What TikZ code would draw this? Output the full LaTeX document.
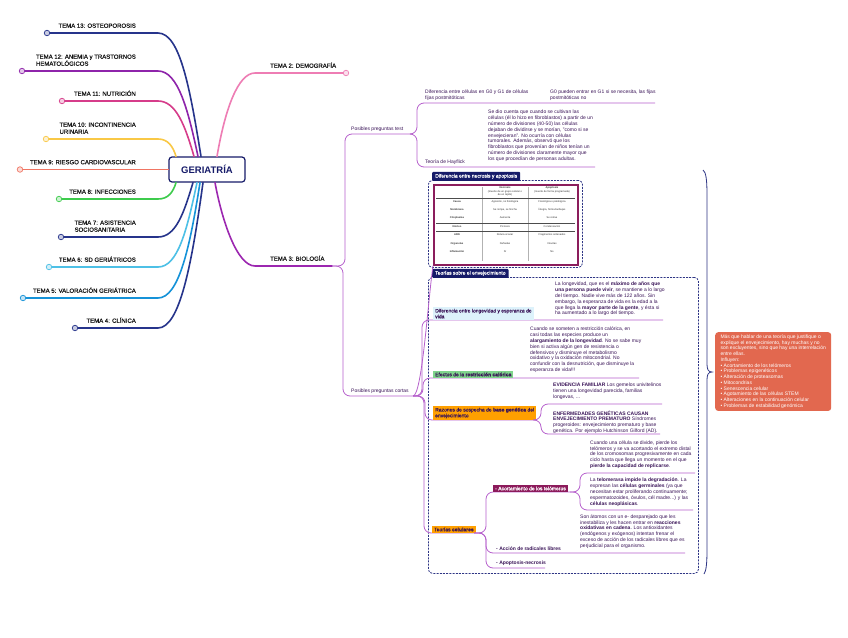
\documentclass[tikz,border=0pt]{standalone}
\usepackage{fontspec}
\setmainfont{Liberation Sans}
\newfontfamily\mediumfont[FakeBold=0.7]{Liberation Sans}
\definecolor{navyT}{HTML}{26348B}
\definecolor{violetT}{HTML}{8E24AA}
\definecolor{magentaT}{HTML}{D63C8A}
\definecolor{yellowT}{HTML}{F9C846}
\definecolor{salmonT}{HTML}{F07563}
\definecolor{greenT}{HTML}{3DCB4C}
\definecolor{skyT}{HTML}{4DC0E6}
\definecolor{blueT}{HTML}{1592D8}
\definecolor{pinkT}{HTML}{EE7DB4}
\definecolor{bioT}{HTML}{9C27B0}
\definecolor{twigc}{HTML}{B660CC}
\definecolor{ink}{HTML}{3A1458}
\definecolor{tabc}{HTML}{161B69}
\definecolor{framec}{HTML}{2E3585}
\definecolor{tablec}{HTML}{8B1D5C}
\definecolor{skybox}{HTML}{DDF2FB}
\definecolor{mintbox}{HTML}{7FD48C}
\definecolor{orangebox}{HTML}{FFA000}
\definecolor{plumbox}{HTML}{8C1A5B}
\definecolor{redbox}{HTML}{E2684F}
\tikzset{
 geri/.style={draw=tabc, line width=1.2pt, fill=white, rounded corners=3pt, minimum width=76pt, minimum height=25pt, font=\bfseries\fontsize{9.5}{11}\selectfont, text=tabc},
 tema/.style={font=\mediumfont\fontsize{6}{7}\selectfont, text=black!90, inner sep=0pt, align=left},
 ring/.style={circle, draw=#1, fill=#1!25, line width=.7pt, minimum size=5.5pt, inner sep=0pt},
 limb/.style={draw=#1, line width=1.6pt, line cap=round},
 twig/.style={draw=twigc, line width=.8pt, rounded corners=7pt},
 topic/.style={font=\fontsize{5}{5.8}\selectfont, text=ink, inner sep=0pt, align=left, anchor=south west},
 note/.style={font=\fontsize{5}{5.8}\selectfont, text=ink, inner sep=0pt, align=left, anchor=north west},
 chip/.style={fill=#1, font=\mediumfont\fontsize{5}{5.8}\selectfont, text=ink, inner xsep=2pt, inner ysep=1.5pt, align=left, anchor=south west},
 grouptab/.style={fill=tabc, text=white, font=\mediumfont\fontsize{5}{5.8}\selectfont, inner xsep=3pt, inner ysep=2.2pt, text height=3.6pt, text depth=1pt, anchor=south west, rounded corners=1pt},
 groupframe/.style={draw=framec, dash pattern=on 2pt off 1.2pt, line width=.8pt, rounded corners=4pt, anchor=north west, inner sep=0pt},
 cell/.style={font=\fontsize{2.6}{3.1}\selectfont, text=black!80, inner sep=0pt, align=center},
 rulec/.style={draw=black!70, line width=.4pt},
 summary/.style={fill=redbox, text=white, rounded corners=3pt, anchor=north west, inner xsep=4pt, inner ysep=2.5pt, font=\fontsize{5}{5.75}\selectfont, align=left}
}
\newcommand{\tema}[7]{%
 \node[ring=#4] (#1) at (#3,#2) {};%
 \coordinate (#1k) at (158,#2);%
 \node[tema,anchor=south east] (#1t) at (136,#2-5) {#7};%
 \draw[limb=#4] (#5) .. controls #6 .. (#1k) -- (#1);%
}
\newcommand{\tabrow}[5]{%
 \node[cell] (#1l) at (457,#2) {\textbf{#3}};%
 \node[cell] (#1n) at (505,#2) {#4};%
 \node[cell] (#1a) at (552,#2) {#5};%
}
\begin{document}
\begin{tikzpicture}[x=1pt,y=-1pt]
 \useasboundingbox (0,0) rectangle (848,637);
 \fill[white] (0,0) rectangle (848,637);

 \node[geri] (geri) at (207,169.5) {GERIATRÍA};

 % left side
 \tema{t13}{33}{47}{navyT}{[xshift=-6pt]geri.north}{+(-11,-68) and +(22,0)}{TEMA 13: OSTEOPOROSIS}
 \tema{t12}{71}{22}{violetT}{[xshift=-9pt]geri.north}{+(-10,-47) and +(20,0)}{TEMA 12: ANEMIA y TRASTORNOS\\HEMATOLÓGICOS}
 \tema{t11}{101}{62}{magentaT}{[xshift=-13pt]geri.north}{+(-9,-31) and +(18,0)}{TEMA 11: NUTRICIÓN}
 \tema{t10}{139}{46}{yellowT}{[xshift=-31pt]geri.north}{+(-3,-10) and +(10,0)}{TEMA 10: INCONTINENCIA\\URINARIA}
 \tema{t9}{169.5}{20}{salmonT}{geri.west}{+(-4,0) and +(4,0)}{TEMA 9: RIESGO CARDIOVASCULAR}
 \tema{t8}{199}{59}{greenT}{[xshift=-31pt]geri.south}{+(-3,10) and +(10,0)}{TEMA 8: INFECCIONES}
 \tema{t7}{237}{61}{navyT}{[xshift=-14pt]geri.south}{+(-9,30) and +(18,0)}{TEMA 7: ASISTENCIA\\SOCIOSANITARIA}
 \tema{t6}{267}{49}{skyT}{[xshift=-10pt]geri.south}{+(-10,47) and +(20,0)}{TEMA 6: SD GERIÁTRICOS}
 \tema{t5}{298}{23}{blueT}{[xshift=-7pt]geri.south}{+(-10,64) and +(21,0)}{TEMA 5: VALORACIÓN GERIÁTRICA}
 \tema{t4}{328}{75}{navyT}{[xshift=-4pt]geri.south}{+(-11,80) and +(22,0)}{TEMA 4: CLÍNICA}

 % right side
 \node[ring=pinkT] (t2) at (346,73) {};
 \coordinate (t2k) at (255,73);
 \node[tema,anchor=south west] (t2t) at (270,68) {TEMA 2: DEMOGRAFÍA};
 \draw[limb=pinkT] ([xshift=10pt]geri.north) .. controls +(8,-47) and +(-17,0) .. (t2k) -- (t2);

 \coordinate (t3k) at (255,266);
 \coordinate (bio) at (332,266);
 \node[tema,anchor=south west] (t3t) at (270,261) {TEMA 3: BIOLOGÍA};
 \draw[limb=bioT] ([xshift=8pt]geri.south) .. controls +(7,38) and +(-18,0) .. (t3k) -- (bio);

 % preguntas test
 \coordinate (ptA) at (345,134);
 \coordinate (ptB) at (410,134);
 \node[topic] (pt) at (351,132) {Posibles preguntas test};
 \draw[twig] (bio) -| (ptA) -- (ptB);

 \coordinate (g0A) at (417,103);
 \coordinate (g0B) at (655,103);
 \draw[twig] (ptB) -| (g0A) -- (g0B);
 \node[topic] (g0) at (425,101) {Diferencia entre células en G0 y G1 de células\\fijas postmitóticas};
 \node[topic] (g0n) at (550,101) {G0 pueden entrar en G1 si se necesita, las fijas\\postmitóticas no};

 \coordinate (hfA) at (417,167);
 \coordinate (hfB) at (595,167);
 \draw[twig] (ptB) -| (hfA) -- (hfB);
 \node[topic] (hf) at (425,165) {Teoría de Hayflick};
 \node[note] (hfn) at (488,110) {Se dio cuenta que cuando se cultivan las\\células (él lo hizo en fibroblastos) a partir de un\\número de divisiones (40-50) las células\\dejaban de dividirse y se morían, "como si se\\envejecieran". No ocurría con células\\tumorales. Además, observó que los\\fibroblastos que provenían de niños tenían un\\número de divisiones claramente mayor que\\los que procedían de personas adultas.};

 % preguntas cortas
 \coordinate (pcA) at (343,396);
 \coordinate (pcB) at (413,396);
 \node[topic] (pc) at (351,394) {Posibles preguntas cortas};
 \draw[twig] (bio) -| (pcA) -- (pcB);

 % groups
 \node[groupframe, minimum width=154pt, minimum height=87pt] (nbox) at (428,180) {};
 \node[grouptab] (ntab) at (432,181) {Diferencia entre necrosis y apoptosis};
 \node[groupframe, minimum width=270pt, minimum height=296pt] (tbox) at (428,277) {};
 \node[grouptab] (ttab) at (432,278) {Teorías sobre el envejecimiento};

 % necrosis / apoptosis table
 \node[draw=tablec, line width=1.6pt, fill=white, minimum width=144pt, minimum height=80pt, inner sep=0pt, anchor=north west] (tbl) at (433,184) {};
 \draw[draw=black!30, line width=.3pt] (482,187) -- (482,261);
 \draw[draw=black!30, line width=.3pt] (528,187) -- (528,261);
 \draw[rulec] (436,198.5) -- (575,198.5);
 \draw[rulec] (436,223) -- (575,223);
 \draw[rulec] (436,231) -- (575,231);
 \node[cell] (hn) at (505,188) {\textbf{Necrosis}};
 \node[cell] (hn2) at (505,193) {(muerte de un grupo celular o\\de un tejido)};
 \node[cell] (ha) at (552,188) {\textbf{Apoptosis}};
 \node[cell] (ha2) at (552,192) {(muerte de forma programada)};
 \tabrow{ra}{202}{Causa}{Agresión, no fisiológica}{Fisiológica o patológica}
 \tabrow{rb}{210}{Membrana}{Se rompe, se hincha}{Íntegra, forma burbujas}
 \tabrow{rc}{218}{Citoplasma}{Aumenta}{Se retrae}
 \tabrow{rd}{227}{Núcleo}{Picnosis}{Condensación}
 \tabrow{re}{235}{ADN}{Rotura al azar}{Fragmentos ordenados}
 \tabrow{rf}{243.5}{Organelas}{Dañadas}{Intactas}
 \tabrow{rg}{252}{Inflamación}{Sí}{No}
 \draw[twig] (pcB) .. controls +(9,0) and +(-5,35) .. (tbl.south west);

 % longevidad
 \coordinate (lgA) at (422,320);
 \coordinate (lgB) at (663,320);
 \draw[twig] (pcB) -| (lgA) -- (lgB);
 \node[chip=skybox] (lg) at (433,320) {Diferencia entre longevidad y esperanza de\\vida};
 \node[note] (lgn) at (555,282) {La longevidad, que es el \textbf{máximo de años que}\\\textbf{una persona puede vivir}, se mantiene a lo largo\\del tiempo. Nadie vive más de 122 años. Sin\\embargo, la esperanza de vida es la edad a la\\que llega la \textbf{mayor parte de la gente}, y ésta si\\ha aumentado a lo largo del tiempo.};

 % restriccion calorica
 \coordinate (rcA) at (423,378);
 \coordinate (rcB) at (639,378);
 \draw[twig] (pcB) -| (rcA) -- (rcB);
 \node[chip=mintbox] (rcal) at (433,378) {Efectos de la \textbf{restricción calórica}};
 \node[note] (rcn) at (530,327) {Cuando se someten a restricción calórica, en\\casi todas las especies produce un\\\textbf{alargamiento de la longevidad}. No se sabe muy\\bien si activa algún gen de resistencia o\\defensivos y disminuye el metabolismo\\oxidativo y la oxidación mitocondrial. No\\confundir con la desnutrición, que disminuye la\\esperanza de vida!!!};

 % base genetica
 \coordinate (rzA) at (425,420);
 \coordinate (rzB) at (533,420);
 \draw[twig] (pcB) -| (rzA) -- (rzB);
 \node[chip=orangebox] (rz) at (433,420) {Razones de sospecha de \textbf{base genética} del\\envejecimiento};
 \coordinate (efA) at (541,404);
 \coordinate (efB) at (662,404);
 \draw[twig] (rzB) -| (efA) -- (efB);
 \node[note] (efn) at (553,383) {\textbf{EVIDENCIA FAMILIAR} Los gemelos univitelinos\\tienen una longevidad parecida, familias\\longevas, ...};
 \coordinate (egA) at (541,434);
 \coordinate (egB) at (660,434);
 \draw[twig] (rzB) -| (egA) -- (egB);
 \node[note] (egn) at (553,410.5) {\textbf{ENFERMEDADES GENÉTICAS CAUSAN}\\\textbf{ENVEJECIMIENTO PREMATURO} Síndromes\\progeroides: envejecimiento prematuro y base\\genética. Por ejemplo Hutchinson Gilford (AD).};

 % teorias celulares
 \coordinate (tcA) at (424,533);
 \coordinate (tcB) at (474,533);
 \draw[twig] (pcB) -| (tcA) -- (tcB);
 \node[chip=orangebox] (tc) at (432,533) {Teorías \textbf{celulares}};

 \coordinate (acA) at (486,492);
 \coordinate (acB) at (570,492);
 \draw[twig] (tcB) -| (acA) -- (acB);
 \node[chip=plumbox, text=white] (ac) at (493,492) {- Acortamiento de los telómeros};
 \coordinate (apA) at (580,473);
 \coordinate (apB) at (695,473);
 \draw[twig] (acB) -| (apA) -- (apB);
 \node[note] (apn) at (590,440.5) {Cuando una célula se divide, pierde los\\telómeros y se va acortando el extremo distal\\de los cromosomas progresivamente en cada\\ciclo hasta que llega un momento en el que\\\textbf{pierde la capacidad de replicarse}.};
 \coordinate (atA) at (580,510);
 \coordinate (atB) at (693,510);
 \draw[twig] (acB) -| (atA) -- (atB);
 \node[note] (atn) at (590,478) {La \textbf{telomerasa impide la degradación}. La\\expresan las \textbf{células germinales} (ya que\\necesitan estar proliferando continuamente;\\espermatozoides, óvulos, cél madre...) y las\\\textbf{células neoplásicas}.};

 \coordinate (rlA) at (486,553);
 \coordinate (rlB) at (685,553);
 \draw[twig] (tcB) -| (rlA) -- (rlB);
 \node[topic] (rl) at (496,551) {\textbf{- Acción de radicales libres}};
 \node[note] (rln) at (580,514.5) {Son átomos con un e- desparejado que les\\inestabiliza y les hacen entrar en \textbf{reacciones}\\\textbf{oxidativas en cadena}. Los antioxidantes\\(endógenos y exógenos) intentan frenar el\\exceso de acción de los radicales libres que es\\perjudicial para el organismo.};

 \coordinate (anA) at (486,568);
 \coordinate (anB) at (545,568);
 \draw[twig] (tcB) -| (anA) -- (anB);
 \node[topic] (an) at (496,566) {\textbf{- Apoptosis-necrosis}};

 % summary and brace
 \node[summary, minimum width=116pt] (sum) at (715,332) {Más que hablar de una teoría que justifique o\\explique el envejecimiento, hay muchas y no\\son excluyentes, sino que hay una interrelación\\entre ellas.\\Influyen:\\• Acortamiento de los telómeros\\• Problemas epigenéticos\\• Alteración de proteasomas\\• Mitocondrias\\• Senescencia celular\\• Agotamiento de las células STEM\\• Alteraciones en la continuación celular\\• Problemas de estabilidad genómica};
 \coordinate (brTop) at (703,170);
 \coordinate (brTip) at (712,372);
 \coordinate (brEnd) at (704,574);
 \draw[framec, line width=.8pt] (brTop) .. controls +(3,2) and +(0,-15) .. (707,195) -- (707,364) .. controls +(0,5) and +(-4,0) .. (brTip) .. controls +(-4,0) and +(0,-5) .. (707,380) -- (707,550) .. controls +(0,15) and +(2,-3) .. (brEnd);
\end{tikzpicture}
\end{document}
